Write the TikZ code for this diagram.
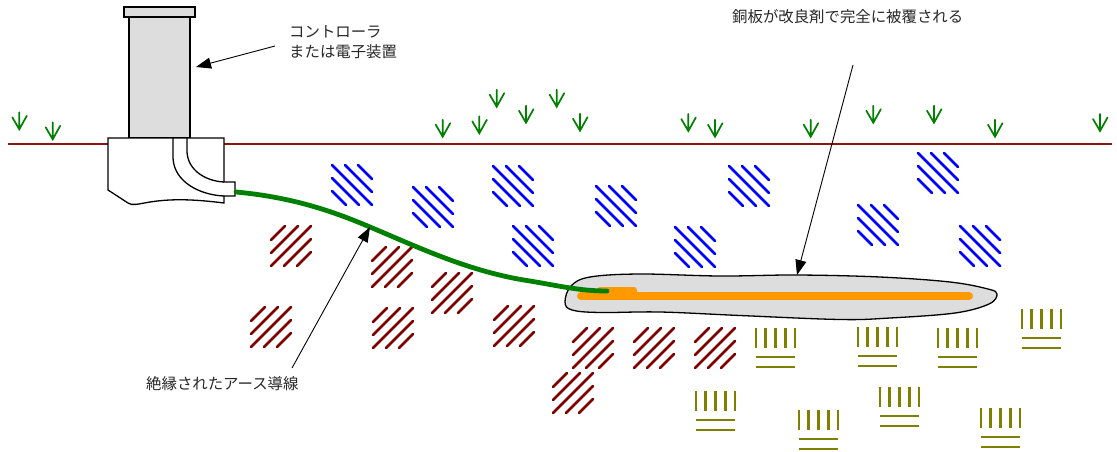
\documentclass[tikz,border=0pt]{standalone}
\usepackage{fontspec}
\newfontfamily\jpfont{Noto Sans CJK JP}
\usetikzlibrary{arrows.meta}

\definecolor{groundline}{RGB}{140,20,20}
\definecolor{grassgreen}{RGB}{0,128,0}
\definecolor{claycolor}{RGB}{128,0,0}
\definecolor{rockcolor}{RGB}{0,0,255}
\definecolor{siltcolor}{RGB}{128,128,0}
\definecolor{platefill}{RGB}{221,221,221}
\definecolor{copperbar}{RGB}{255,153,0}
\definecolor{wiregreen}{RGB}{0,128,0}
\definecolor{labelgray}{RGB}{40,40,40}

\tikzset{
  outline/.style={draw=black, line width=1.3pt},
  labeltext/.style={inner sep=0pt, text=labelgray,
    font=\jpfont\fontsize{15.4}{20}\selectfont},
  callout/.style={draw=black, line width=0.9pt,
    -{Triangle[length=15pt,width=11pt]}},
  % grass tuft: stem with two blades meeting at the root
  grass/.pic={
    \draw[grassgreen, line width=1.7pt, line cap=round]
      (0,-17) -- (0,0) (-7,-12) -- (0,0) -- (7.5,-13.5);
  },
  % rocky soil: five back-slanted strokes in a 40x40 square
  rockpatch/.pic={
    \draw[rockcolor, line width=2.8pt, line cap=round]
      (0,0) -- (40,40) (13,0) -- (40,27) (26,0) -- (40,14)
      (0,13) -- (27,40) (0,26) -- (14,40);
  },
  % clay: five forward-slanted strokes
  claypatch/.pic={
    \draw[claycolor, line width=2.8pt, line cap=round]
      (0,40) -- (40,0) (0,27) -- (27,0) (0,14) -- (14,0)
      (13,40) -- (40,13) (26,40) -- (40,26);
  },
  % silt: five short posts over two bars
  siltpatch/.pic={
    \draw[siltcolor, line width=2.8pt]
      (0,0) -- (0,20) (9.75,0) -- (9.75,20) (19.5,0) -- (19.5,20)
      (29.25,0) -- (29.25,20) (39,0) -- (39,20)
      (0,29) -- (39,29) (0,39) -- (39,39);
  },
}

\begin{document}
\begin{tikzpicture}[x=1pt, y=-1pt]
\fill[white] (0,0) rectangle (1117,451);
\useasboundingbox (0,0) rectangle (1117,451);

% ground surface
\draw[groundline, line width=1.3pt] (8,144) -- (1112,144);

% grass along the surface
\foreach \gx/\gy in {19.3/129.3, 52.7/139.3, 442.7/136.7, 479.3/133.3,
    496.7/106.7, 526/122.7, 556.7/106.7, 580/130.7, 688.3/131,
    715/136.7, 810.7/136.7, 873.3/122.7, 934/122.7, 995/136.7, 1100/131}
  \pic at (\gx,\gy) {grass};

% soil layers
\foreach \px/\py in {332/165, 413/187, 493/166, 513/226, 596/186,
    675/227, 729/166, 858/205, 918/153, 960/226}
  \pic at (\px,\py) {rockpatch};
\foreach \px/\py in {271/226, 372/247, 432/273, 251/307, 373/308,
    494/306, 573/328, 634/328, 695/328, 553/373}
  \pic at (\px,\py) {claypatch};
\foreach \px/\py in {756/328, 858/327, 938/328, 1022/309, 696/391,
    799/410, 880/387, 981/408}
  \pic at (\px,\py) {siltpatch};

% controller housing
\draw[outline, fill=platefill] (129,17) rectangle (190,138);
\draw[outline, fill=platefill] (124,7) rectangle (195,17);
\draw[outline, fill=white]
  (108,138) -- (224,138) -- (224,182) -- (235,182) -- (235,196)
  -- (224,196) -- (224,203)
  .. controls (200,200) and (175,198) .. (150,202)
  .. controls (138,204) and (132,206) .. (128,203)
  -- (108,190) -- cycle;
% conduit bend inside the base
\draw[outline] (173,138) -- (173,158)
  .. controls (174,182) and (200,195) .. (224,196);
\draw[outline] (187,138) -- (187,152)
  .. controls (188,170) and (205,181) .. (224,182);

% buried copper plate with conditioner
\draw[outline, fill=platefill] plot[smooth cycle, tension=0.6] coordinates {
  (565,302) (571,286) (590,277) (640,274) (720,276) (797,275)
  (880,277) (950,282) (988,289) (997,294) (989,304) (955,313)
  (890,318) (840,319.5) (740,315.5) (660,312) (600,312.5) (572,310)};
\draw[copperbar, line width=8pt, line cap=round] (581,296) -- (969,296);
\fill[copperbar, rounded corners=3pt] (597,287) rectangle (637,296);

% insulated ground conductor
\draw[wiregreen, line width=4.8pt, line cap=round]
  (236,192) .. controls (290,197) and (330,210) .. (370,227)
  .. controls (420,248) and (470,272) .. (530,281)
  .. controls (560,286) and (580,291) .. (607,291);

% labels
\node[labeltext, anchor=west] (platelbl) at (732,17)
  {銅板が改良剤で完全に被覆される};
\node[labeltext, anchor=west, align=left] (ctrllbl) at (289,42)
  {コントローラ\\または電子装置};
\node[labeltext, anchor=west] (wirelbl) at (146,384)
  {絶縁されたアース導線};

% callouts
\coordinate (ctrlTail) at (275,46);
\coordinate (ctrlTip) at (196,67);
\coordinate (plateTail) at (853,65);
\coordinate (plateTip) at (797,275);
\coordinate (wireTail) at (292,368);
\coordinate (wireTip) at (370,227);
\draw[callout] (ctrlTail) -- (ctrlTip);
\draw[callout] (plateTail) -- (plateTip);
\draw[callout] (wireTail) -- (wireTip);
\end{tikzpicture}
\end{document}
